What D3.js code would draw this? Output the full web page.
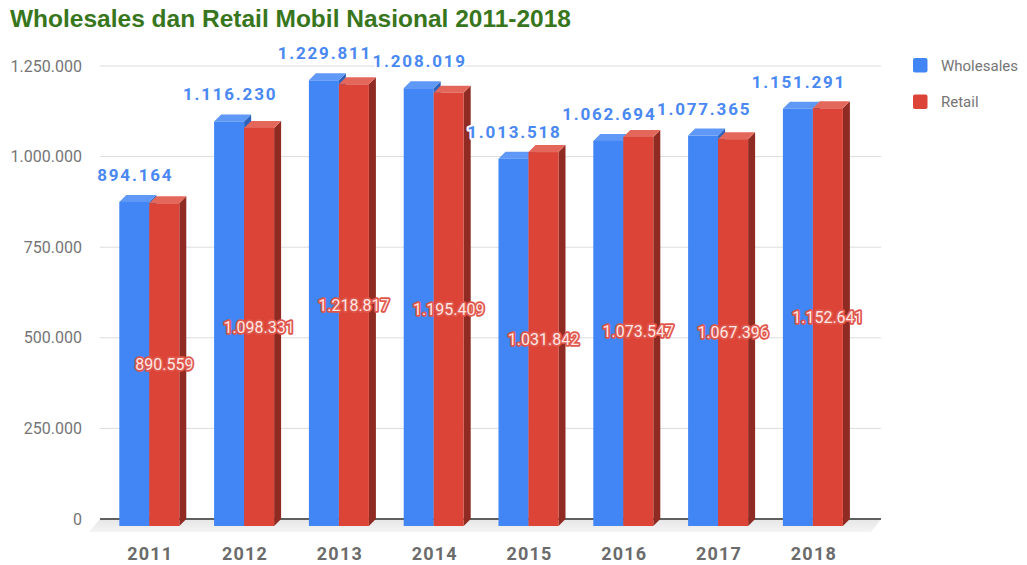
<!DOCTYPE html>
<html><head><meta charset="utf-8">
<script src="https://cdn.jsdelivr.net/npm/d3@7"></script>
<style>body{margin:0;background:#fff}svg{display:block}</style>
</head><body>
<svg id="chart" width="1027" height="565"></svg>
<script>
const years = ["2011","2012","2013","2014","2015","2016","2017","2018"];
const wholesales = [894164,1116230,1229811,1208019,1013518,1062694,1077365,1151291];
const retail = [890559,1098331,1218817,1195409,1031842,1073547,1067396,1152641];
const seriesNames = ["Wholesales","Retail"];
const yTicks = [0,250000,500000,750000,1000000,1250000];
const titleText = "Wholesales dan Retail Mobil Nasional 2011-2018";

const fmt = v => d3.format(",")(v).replace(/,/g, ".");
const svg = d3.select("#chart");
const depth = 7;            // 3D offset of bars
const colors = {
  Wholesales: {front:"#4285f4", top:"#5f98f6", side:"#2d62bd"},
  Retail: {front:"#db4437", top:"#e4675b", side:"#8f2b23"}
};

const y = d3.scaleLinear().domain([0,1250000]).range([519,66]);
const x = d3.scaleBand().domain(years).range([108.9,867.3]).paddingInner(0.367).paddingOuter(0.1835);
const xs = d3.scaleBand().domain(seriesNames).range([0, x.bandwidth()]);
const gridX0 = 100, gridX1 = 881;

// title
svg.append("text").attr("x",10).attr("y",27)
  .attr("font-family","Liberation Sans, Arial, sans-serif").attr("font-weight","bold")
  .attr("font-size",24.5).attr("fill","#38761d").text(titleText);

// floor
const defs = svg.append("defs");
const fg = defs.append("linearGradient").attr("id","floorg").attr("x1",0).attr("x2",0).attr("y1",0).attr("y2",1);
fg.append("stop").attr("offset","0%").attr("stop-color","#e6e6e6");
fg.append("stop").attr("offset","100%").attr("stop-color","#f4f4f4");
const y0 = y(0);
svg.append("path")
  .attr("d",`M${gridX0},${y0}L${gridX1},${y0}L${gridX1-10},${y0+13}L${gridX0-11},${y0+13}Z`)
  .attr("fill","url(#floorg)");

// gridlines
svg.append("g").selectAll("line").data(yTicks.filter(t=>t>0)).join("line")
  .attr("x1",gridX0).attr("x2",gridX1).attr("y1",d=>y(d)).attr("y2",d=>y(d))
  .attr("stroke","#dcdcdc").attr("stroke-width",1);
svg.append("line").attr("x1",gridX0).attr("x2",gridX1).attr("y1",y0).attr("y2",y0)
  .attr("stroke","#5f5f5f").attr("stroke-width",2);

// y tick labels
svg.append("g").selectAll("text").data(yTicks).join("text")
  .attr("x",82).attr("y",d=>y(d)).attr("dy","0.35em").attr("text-anchor","end")
  .attr("font-family","Roboto, sans-serif").attr("font-size",16).attr("fill","#757575")
  .text(d=>fmt(d));

// bars
const data = years.map((yr,i)=>({year:yr, values:[
  {name:"Wholesales", v:wholesales[i]}, {name:"Retail", v:retail[i]}]}));
const bars = svg.append("g");
data.forEach(g=>{
  g.values.forEach(s=>{
    const bx = x(g.year) + xs(s.name);      // back-plane left
    const bw = xs.bandwidth();
    const yt = y(s.v);
    const fx = bx - depth, fy = yt + depth, fb = y0 + depth;
    const c = colors[s.name];
    bars.append("path").attr("d",`M${fx+bw},${fy}L${bx+bw},${yt}L${bx+bw},${y0}L${fx+bw},${fb}Z`).attr("fill",c.side);
    bars.append("path").attr("d",`M${fx},${fy}L${bx},${yt}L${bx+bw},${yt}L${fx+bw},${fy}Z`).attr("fill",c.top);
    bars.append("rect").attr("x",fx).attr("y",fy).attr("width",bw).attr("height",fb-fy).attr("fill",c.front);
  });
});

// labels
const lab = svg.append("g");
data.forEach(g=>{
  const w = g.values[0], r = g.values[1];
  const bw = xs.bandwidth();
  const wx = x(g.year) + xs("Wholesales") - depth + bw/2;
  lab.append("text").attr("x",wx+1).attr("y",y(w.v)-14).attr("text-anchor","middle")
    .attr("font-family","Roboto, sans-serif").attr("font-weight","bold").attr("font-size",17)
    .attr("letter-spacing",1.8).attr("fill","#4a88f2").attr("stroke","#fff").attr("stroke-width",4)
    .attr("paint-order","stroke").attr("stroke-linejoin","round").text(fmt(w.v));
  const rx = x(g.year) + xs("Retail") - depth + bw/2;
  const ry = ((y(r.v)+depth) + (y0+depth))/2;
  lab.append("text").attr("x",rx).attr("y",ry).attr("dy","0.35em").attr("text-anchor","middle")
    .attr("font-family","Roboto, sans-serif").attr("font-size",16)
    .attr("fill","#fde8e6").attr("stroke","#e0564a").attr("stroke-width",3.5)
    .attr("paint-order","stroke").attr("stroke-linejoin","round").text(fmt(r.v));
});

// x labels
svg.append("g").selectAll("text").data(years).join("text")
  .attr("x",d=>x(d)-depth+x.bandwidth()/2+1).attr("y",560).attr("text-anchor","middle")
  .attr("font-family","Roboto, sans-serif").attr("font-weight","bold").attr("font-size",18)
  .attr("letter-spacing",1.2).attr("fill","#6b6b6b").text(d=>d);

// legend
const lg = svg.append("g").selectAll("g").data(seriesNames).join("g")
  .attr("transform",(d,i)=>`translate(913,${58+i*36.5})`);
lg.append("rect").attr("width",14.5).attr("height",14.5).attr("rx",2).attr("fill",d=>colors[d].front);
lg.append("text").attr("x",28).attr("y",7.5).attr("dy","0.35em")
  .attr("font-family","Roboto, sans-serif").attr("font-size",15).attr("fill","#757575").text(d=>d);
</script>
</body></html>
